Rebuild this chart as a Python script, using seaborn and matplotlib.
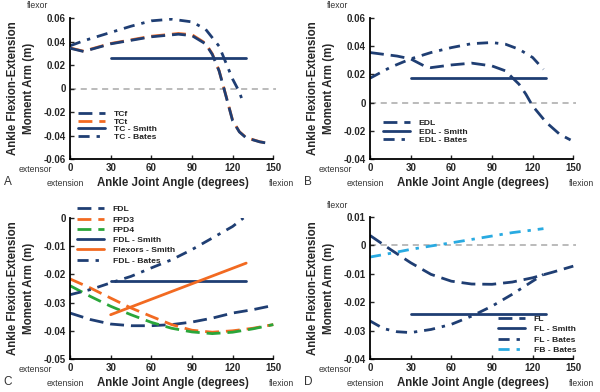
import matplotlib
matplotlib.use("Agg")
import matplotlib.pyplot as plt
import seaborn as sns
import numpy as np

sns.set_style("white")
plt.rcParams['font.family'] = ['Liberation Sans', 'DejaVu Sans']

# ---------------- data ----------------
# Panel A
a_tcf_x = [0, 10, 30, 60, 80, 90, 100, 105, 110, 115, 120, 125, 130, 140, 148]
a_tcf_y = [0.0343, 0.0315, 0.038, 0.044, 0.0462, 0.045, 0.038, 0.029, 0.015, -0.006, -0.0275, -0.037, -0.042, -0.0454, -0.047]
a_tct_x = [0, 10, 30, 60, 80, 90, 100, 105, 110, 115, 120, 125, 130, 140, 148]
a_tct_y = [0.0345, 0.0318, 0.0383, 0.0445, 0.0468, 0.0458, 0.0385, 0.0295, 0.0152, -0.0058, -0.0272, -0.0368, -0.0418, -0.0453, -0.0469]
a_smith_x = [30, 130]
a_smith_y = [0.0258, 0.0258]
a_bates_x = [0, 10, 30, 45, 60, 75, 90, 100, 110, 115, 120, 125, 128]
a_bates_y = [0.0363, 0.0406, 0.0477, 0.053, 0.0576, 0.059, 0.0567, 0.0505, 0.036, 0.022, 0.008, -0.003, -0.013]

# Panel B
b_edl_x = [0, 20, 30, 40, 45, 60, 75, 90, 100, 105, 110, 115, 120, 130, 140, 148]
b_edl_y = [0.0355, 0.033, 0.031, 0.026, 0.0248, 0.0267, 0.028, 0.026, 0.0225, 0.0177, 0.013, 0.006, -0.0024, -0.014, -0.0225, -0.0265]
b_smith_x = [30, 130]
b_smith_y = [0.0173, 0.0173]
b_bates_x = [0, 15, 30, 45, 60, 75, 90, 100, 110, 120, 128]
b_bates_y = [0.0173, 0.025, 0.031, 0.0355, 0.039, 0.0418, 0.0426, 0.0414, 0.0378, 0.032, 0.0236]

# Panel C
c_x = [0, 15, 30, 45, 60, 75, 90, 105, 120, 135, 150]
c_fdl_y = [-0.0337, -0.036, -0.0376, -0.0382, -0.0382, -0.0378, -0.0369, -0.0355, -0.0337, -0.0325, -0.031]
c_fpd3_y = [-0.0216, -0.0248, -0.0284, -0.0319, -0.0349, -0.0378, -0.0398, -0.0405, -0.040, -0.0391, -0.0378]
c_fpd4_y = [-0.024, -0.0278, -0.0313, -0.0343, -0.037, -0.0391, -0.0404, -0.041, -0.0405, -0.0393, -0.0378]
c_fdl_smith_x = [30, 130]
c_fdl_smith_y = [-0.0222, -0.0222]
c_flex_smith_x = [30, 130]
c_flex_smith_y = [-0.0343, -0.016]
c_bates_x = [0, 15, 30, 45, 60, 75, 90, 105, 120, 128]
c_bates_y = [-0.0272, -0.0254, -0.023, -0.0207, -0.0177, -0.0148, -0.0112, -0.0071, -0.003, 0.0]

# Panel D
d_fl_x = [0, 15, 30, 45, 60, 75, 90, 105, 120, 135, 150]
d_fl_y = [0.0035, -0.0014, -0.0061, -0.0102, -0.0126, -0.0136, -0.0137, -0.0129, -0.0114, -0.0094, -0.0073]
d_smith_x = [30, 130]
d_smith_y = [-0.024, -0.024]
d_flb_x = [0, 10, 20, 30, 45, 60, 75, 90, 105, 120, 128]
d_flb_y = [-0.0266, -0.0293, -0.0304, -0.0307, -0.0296, -0.0278, -0.0249, -0.0214, -0.0172, -0.0126, -0.0102]
d_fbb_x = [0, 15, 30, 45, 60, 75, 90, 105, 120, 128]
d_fbb_y = [-0.0041, -0.0028, -0.0014, -0.0002, 0.0009, 0.0021, 0.0033, 0.0045, 0.0054, 0.0059]

x_ticks = [0, 30, 60, 90, 120, 150]

# ---------------- style ----------------
NAVY = '#1f3e73'
ORANGE = '#f26a21'
GREEN = '#2aa63a'
LBLUE = '#29aae1'
DASH = (0, (5, 2.5))
DASHDOT = (0, (4, 2.5, 1.2, 2.5))
LW = 2.0
SMALL = 6.2

W, H = 600, 392
fig = plt.figure(figsize=(6, 3.92), dpi=100)


def make_ax(l, t, r, b):
    return fig.add_axes([l / W, 1 - b / H, (r - l) / W, (b - t) / H])


def line(ax, x, y, color, ls, label, z=2):
    sns.lineplot(x=x, y=y, ax=ax, color=color, linestyle=ls, lw=LW,
                 label=label, sort=False, estimator=None, zorder=z)


def style(ax, ylim, yticks, ylabels, l, t, r, b, letter, flexor=True, zero=True):
    ax.set_xlim(0, 152)
    ax.set_ylim(*ylim)
    ax.set_xticks(x_ticks)
    ax.set_yticks(yticks)
    ax.set_yticklabels(ylabels)
    for s in ['top', 'right']:
        ax.spines[s].set_visible(False)
    for s in ['left', 'bottom']:
        ax.spines[s].set_color('black')
        ax.spines[s].set_linewidth(1.3)
    ax.spines['bottom'].set_bounds(0, 150)
    ax.tick_params(direction='in', length=3, width=1, labelsize=7.0, pad=3,
                   left=True, bottom=True)
    for lab in ax.get_xticklabels() + ax.get_yticklabels():
        lab.set_fontweight('bold')
    if zero:
        ax.axhline(0, color='#a8a8a8', lw=1.1, linestyle=(0, (4, 3)), zorder=0)
    ax.set_xlabel('Ankle Joint Angle (degrees)', fontsize=8.3, fontweight='bold')
    ax.set_ylabel('Ankle Flexion-Extension\nMoment Arm (m)', fontsize=8.3,
                  fontweight='bold', linespacing=1.45)
    ax.yaxis.set_label_coords(-0.17, 0.5)
    ax.xaxis.set_label_coords(0.5, -0.125)
    if flexor:
        fig.text((l - 32) / W, 1 - (t - 12) / H, 'flexor', fontsize=SMALL,
                 ha='center', va='center', color='#333333')
    fig.text((l - 35) / W, 1 - (b + 10) / H, 'extensor', fontsize=SMALL,
             ha='center', va='center', color='#333333')
    fig.text((l - 5) / W, 1 - (b + 24) / H, 'extension', fontsize=SMALL,
             ha='center', va='center', color='#333333')
    fig.text((r + 6) / W, 1 - (b + 24) / H, 'flexion', fontsize=SMALL,
             ha='center', va='center', color='#333333')
    fig.text((l - 62) / W, 1 - (b + 23) / H, letter, fontsize=8.5,
             ha='center', va='center', color='#333333')


def legend(ax, anchor, loc, spacing):
    leg = ax.legend(loc=loc, bbox_to_anchor=anchor, frameon=False,
                    fontsize=6.1, handlelength=3.2, handletextpad=1.0,
                    labelspacing=spacing, borderaxespad=0, borderpad=0)
    for t in leg.get_texts():
        t.set_fontweight('bold')
        t.set_color('#222222')
    return leg


# Panel A
L, T, R, B = 70, 18, 276, 159
axA = make_ax(L, T, R, B)
line(axA, a_tcf_x, a_tcf_y, NAVY, DASH, 'TCf', z=3)
line(axA, a_tct_x, a_tct_y, ORANGE, DASH, 'TCt', z=2)
line(axA, a_smith_x, a_smith_y, NAVY, '-', 'TC - Smith')
line(axA, a_bates_x, a_bates_y, NAVY, DASHDOT, 'TC - Bates')
style(axA, (-0.06, 0.06), [-0.06, -0.04, -0.02, 0, 0.02, 0.04, 0.06],
      ['-0.06', '-0.04', '-0.02', '0', '0.02', '0.04', '0.06'], L, T, R, B, 'A')
legend(axA, (0.039, 0.35), 'upper left', 0.0)

# Panel B
L, T, R, B = 370, 18, 576, 159
axB = make_ax(L, T, R, B)
line(axB, b_edl_x, b_edl_y, NAVY, DASH, 'EDL')
line(axB, b_smith_x, b_smith_y, NAVY, '-', 'EDL - Smith')
line(axB, b_bates_x, b_bates_y, NAVY, DASHDOT, 'EDL - Bates')
style(axB, (-0.04, 0.06), [-0.04, -0.02, 0, 0.02, 0.04, 0.06],
      ['-0.04', '-0.02', '0', '0.02', '0.04', '0.06'], L, T, R, B, 'B')
legend(axB, (0.063, 0.285), 'upper left', 0.1)

# Panel C
L, T, R, B = 70, 218, 276, 359
axC = make_ax(L, T, R, B)
line(axC, c_x, c_fdl_y, NAVY, DASH, 'FDL')
line(axC, c_x, c_fpd3_y, ORANGE, DASH, 'FPD3')
line(axC, c_x, c_fpd4_y, GREEN, DASH, 'FPD4')
line(axC, c_fdl_smith_x, c_fdl_smith_y, NAVY, '-', 'FDL - Smith')
line(axC, c_flex_smith_x, c_flex_smith_y, ORANGE, '-', 'Flexors - Smith')
line(axC, c_bates_x, c_bates_y, NAVY, DASHDOT, 'FDL - Bates')
style(axC, (-0.05, 0.0), [-0.05, -0.04, -0.03, -0.02, -0.01, 0],
      ['-0.05', '-0.04', '-0.03', '-0.02', '-0.01', '0'], L, T, R, B, 'C',
      flexor=False, zero=False)
legend(axC, (0.034, 1.09), 'upper left', 0.28)

# Panel D
L, T, R, B = 370, 217, 576, 359
axD = make_ax(L, T, R, B)
line(axD, d_fl_x, d_fl_y, NAVY, DASH, 'FL')
line(axD, d_smith_x, d_smith_y, NAVY, '-', 'FL - Smith')
line(axD, d_flb_x, d_flb_y, NAVY, DASHDOT, 'FL - Bates')
line(axD, d_fbb_x, d_fbb_y, LBLUE, DASHDOT, 'FB - Bates')
style(axD, (-0.04, 0.01), [-0.04, -0.03, -0.02, -0.01, 0, 0.01],
      ['-0.04', '-0.03', '-0.02', '-0.01', '0', '0.01'], L, T, R, B, 'D')
legend(axD, (1.0, 0.035), 'lower right', 0.3)

fig.savefig('out.png', dpi=100)
